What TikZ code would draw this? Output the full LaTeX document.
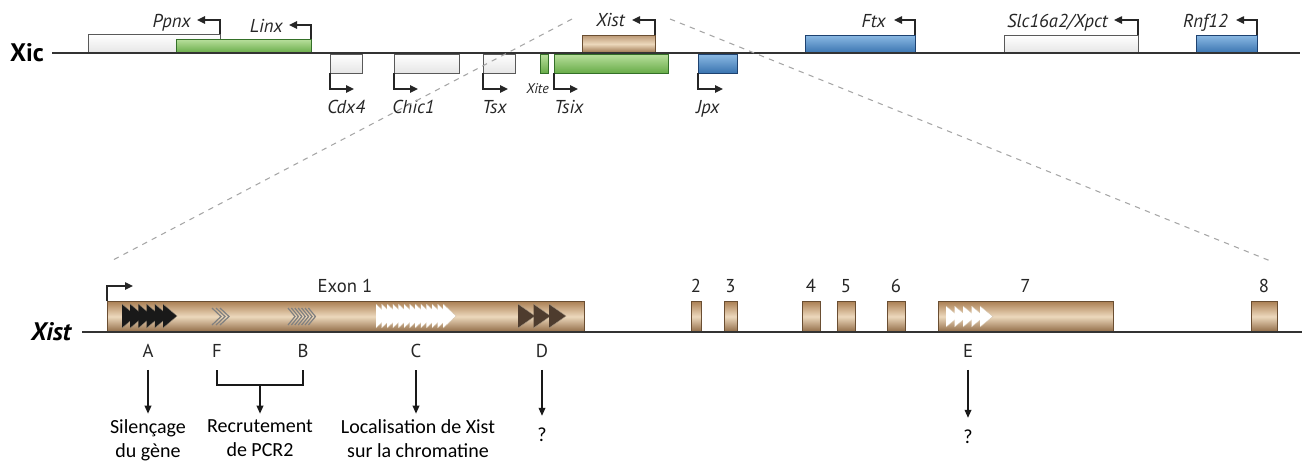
\documentclass[tikz,border=0pt]{standalone}
\usepackage{fontspec}
\setmainfont{Carlito}
\newfontfamily\genefont{PT Sans}
\usetikzlibrary{positioning, arrows.meta, calc}

\definecolor{exonlight}{RGB}{236,216,188}
\definecolor{exondark}{RGB}{170,126,82}
\definecolor{exonedge}{RGB}{106,78,50}
\definecolor{greenlight}{RGB}{186,224,158}
\definecolor{greendark}{RGB}{104,172,72}
\definecolor{greenedge}{RGB}{52,112,40}
\definecolor{bluelight}{RGB}{140,186,228}
\definecolor{bluedark}{RGB}{58,116,176}
\definecolor{blueedge}{RGB}{30,66,112}
\definecolor{motifbrown}{RGB}{78,60,46}

\tikzset{
  gene/.style={line width=0.6pt},
  whitegene/.style={gene, draw=black!65, top color=white, bottom color=black!10},
  greengene/.style={gene, draw=greenedge, top color=greenlight, bottom color=greendark},
  bluegene/.style={gene, draw=blueedge, top color=bluelight, bottom color=bluedark},
  tangene/.style={gene, draw=exonedge, top color=exondark!80, bottom color=exondark!90!black, middle color=exonlight},
  exonbox/.style={gene, draw=exonedge, top color=exondark, bottom color=exondark!85!black, middle color=exonlight},
  chrom/.style={line width=1.4pt, black!80},
  prom/.style={line width=1.1pt, black!85, -{Triangle[length=6pt,width=5.5pt]}},
  zoomline/.style={gray!70, line width=0.8pt, dash pattern=on 4pt off 4pt},
  genelabel/.style={font=\genefont\itshape\fontsize{14}{16}\selectfont, inner sep=0pt, text=black!85},
  seglabel/.style={font=\genefont\fontsize{14}{16}\selectfont, inner sep=0pt, text=black!85},
  funclabel/.style={font=\fontsize{15}{18.5}\selectfont, inner sep=0pt, align=center},
  funcarrow/.style={line width=1.1pt, black!90, -{Triangle[length=6pt,width=5pt]}},
  linkline/.style={line width=1.1pt, black!90},
  darkrepeat/.style={fill=black!90, draw=exonlight!60!black, line width=0.3pt},
  greyrepeat/.style={draw=gray, line width=0.9pt},
  whiterepeat/.style={fill=white, draw=exonlight!90!black, line width=0.3pt},
  brownrepeat/.style={fill=motifbrown, draw=exonlight!70!black, line width=0.3pt}
}

% triangles of a repeat: x0, count, step, width, top, bottom, style
\newcommand{\motif}[7]{%
  \foreach \k in {1,...,#2}{%
    \path[#7] ({#1+(\k-1)*#3},#5) -- ({#1+(\k-1)*#3+#4},{(#5+#6)/2}) -- ({#1+(\k-1)*#3},#6);}}

\begin{document}
\begin{tikzpicture}[x=0.75pt, y=-0.75pt]
\useasboundingbox (0,0) rectangle (1308,469);

% Xic, the whole centre
\node[font=\genefont\bfseries\fontsize{19}{21}\selectfont, inner sep=0pt] (xic) at (27,53) {Xic};
\path[whitegene] (88,34) rectangle (220,53);
\path[greengene] (176,39) rectangle (311,53);
\path[tangene] (582,35) rectangle (655,53);
\path[bluegene] (805,35) rectangle (915,53);
\path[whitegene] (1004,35) rectangle (1138,53);
\path[bluegene] (1196,35) rectangle (1257,53);
\path[whitegene] (330,54) rectangle (362,73);
\path[whitegene] (394,54) rectangle (459,73);
\path[whitegene] (483,54) rectangle (515,73);
\path[greengene] (540,54) rectangle (548,73);
\path[greengene] (554,54) rectangle (668,73);
\path[bluegene] (698,54) rectangle (737,73);
\draw[chrom] (52,53) -- (1300,53);

\draw[prom] (220,34) |- (197,20);
\draw[prom] (311,39) |- (289,25);
\draw[prom] (655,35) |- (632,20);
\draw[prom] (915,35) |- (894,20);
\draw[prom] (1138,35) |- (1114,20);
\draw[prom] (1257,35) |- (1236,20);
\draw[prom] (330,73) |- (354,89);
\draw[prom] (394,73) |- (418,89);
\draw[prom] (483,73) |- (508,89);
\draw[prom] (554,73) |- (578,89);
\draw[prom] (698,73) |- (723,89);

\node[genelabel, anchor=base east] (ppnx) at (191,27) {Ppnx};
\node[genelabel, anchor=base east] (linx) at (283,32) {Linx};
\node[genelabel, anchor=base east] (xisttop) at (625,26) {Xist};
\node[genelabel, anchor=base east] (ftx) at (886,27) {Ftx};
\node[genelabel, anchor=base east] (slc) at (1108,27) {Slc16a2/Xpct};
\node[genelabel, anchor=base east] (rnf) at (1228,27) {Rnf12};
\node[genelabel, anchor=base west] (cdx) at (327,113) {Cdx4};
\node[genelabel, anchor=base west] (chic) at (392,113) {Chic1};
\node[genelabel, anchor=base west] (tsx) at (482,113) {Tsx};
\node[genelabel, anchor=base east, font=\genefont\itshape\fontsize{10.5}{12}\selectfont] (xite) at (549,93) {Xite};
\node[genelabel, anchor=base west] (tsix) at (554,113) {Tsix};
\node[genelabel, anchor=base west] (jpx) at (696,113) {Jpx};

% zoom onto Xist
\draw[zoomline] (572,19) -- (113,260);
\draw[zoomline] (670,19) -- (1273,262);

% Xist gene
\node[font=\genefont\bfseries\itshape\fontsize{19}{21}\selectfont, inner sep=0pt] (xist) at (51,332) {Xist};
\path[exonbox] (107,301) rectangle (584,332);
\foreach \n/\a/\b in {2/691/701, 3/724/737, 4/802/820, 5/837/855, 6/887/905, 7/938/1113, 8/1251/1277}{
  \path[exonbox] (\a,301) rectangle (\b,332);
  \node[seglabel] (ex\n) at ({(\a+\b)/2},286) {\n};
}
\node[seglabel] (ex1) at (345,286) {Exon 1};
\draw[chrom] (82,332) -- (1302,332);
\draw[prom] (107,301) |- (133,286);

% repeats
\motif{122}{6}{8.2}{14}{304}{328}{darkrepeat}
\motif{212}{3}{4}{9}{308}{325}{greyrepeat}
\motif{288}{7}{3.4}{7}{308}{325}{greyrepeat}
\motif{376}{13}{5.6}{13}{304}{328}{whiterepeat}
\motif{518}{3}{15.5}{17}{304}{328}{brownrepeat}
\motif{946}{5}{8.5}{13}{306}{327}{whiterepeat}

% repeats and what they do
\node[seglabel] (A) at (148,351) {A};
\node[seglabel] (F) at (217,351) {F};
\node[seglabel] (B) at (303,351) {B};
\node[seglabel] (C) at (416,351) {C};
\node[seglabel] (D) at (542,351) {D};
\node[seglabel] (E) at (968,351) {E};

\node[funclabel, anchor=north] (silence) at (148,419) {Silençage\\du gène};
\node[funclabel, anchor=north] (pcr) at (260,419) {Recrutement\\de PCR2};
\node[funclabel, anchor=north] (local) at (418,419) {Localisation de Xist\\sur la chromatine};
\node[funclabel] (unkD) at (542,435) {?};
\node[funclabel] (unkE) at (968,437) {?};

\draw[funcarrow, shorten <=9pt, shorten >=4pt] (A) -- (silence);
\draw[linkline] ($(F)+(0,19)$) -- ($(F)+(0,34)$) -- ($(B)+(0,34)$) -- ($(B)+(0,19)$);
\draw[funcarrow, shorten >=4pt] ($(F)!0.5!(B)+(0,34)$) -- (pcr);
\draw[funcarrow, shorten <=9pt, shorten >=4pt] (C) -- (C |- local.north);
\draw[funcarrow, shorten <=9pt, shorten >=9pt] (D) -- (unkD);
\draw[funcarrow, shorten <=9pt, shorten >=9pt] (E) -- (unkE);
\end{tikzpicture}
\end{document}
